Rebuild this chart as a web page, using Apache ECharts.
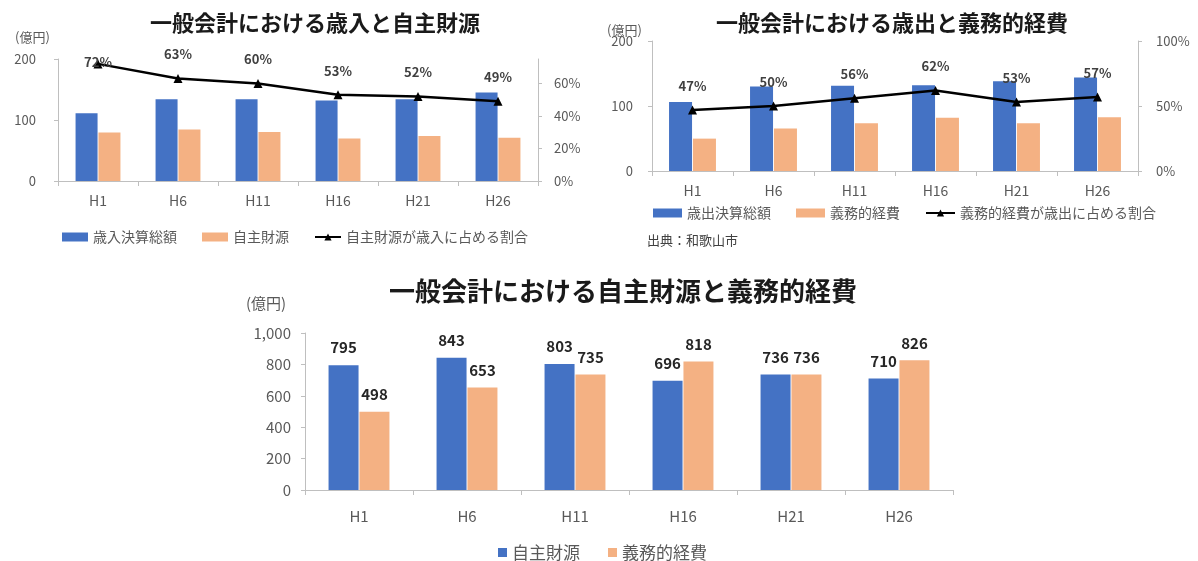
<!DOCTYPE html>
<html>
<head>
<meta charset="utf-8">
<script src="https://cdn.jsdelivr.net/npm/echarts@6/dist/echarts.min.js"></script>
<style>
  html, body { margin: 0; padding: 0; background: #fff; }
  #chart { width: 1198px; height: 561px; }
</style>
</head>
<body>
<div id="chart"></div>
<script>
// Fiscal years (Heisei)
const categories = ['H1', 'H6', 'H11', 'H16', 'H21', 'H26'];

// Revenue panel
const revenueTotal = [111, 134, 134, 132, 134, 145];
const ownRevenueTop = [79.5, 84.3, 80.3, 69.6, 73.6, 71.0];
const ownRevenueRatio = [0.72, 0.63, 0.60, 0.53, 0.52, 0.49];

// Expenditure panel
const expenditureTotal = [106, 130, 131, 132, 138, 144];
const mandatoryTop = [49.8, 65.3, 73.5, 81.8, 73.6, 82.6];
const mandatoryRatio = [0.47, 0.50, 0.56, 0.62, 0.53, 0.57];

// Comparison panel (億円)
const ownRevenue = [795, 843, 803, 696, 736, 710];
const mandatory = [498, 653, 735, 818, 736, 826];

const FONT = '"Noto Sans CJK JP", "Noto Sans", sans-serif';
const BLUE = '#4472C4';
const ORANGE = '#F4B183';
const AXIS = '#bfbfbf';
const TEXT = '#595959';

const pct = v => Math.round(v * 100) + '%';

function catAxis(gridIndex, fontSize, margin) {
  return {
    type: 'category', gridIndex, data: categories,
    axisLine: { lineStyle: { color: AXIS } },
    axisTick: { show: true, length: 5, lineStyle: { color: AXIS } },
    axisLabel: { color: TEXT, fontSize, fontFamily: FONT, margin }
  };
}
function valAxis(gridIndex, max, interval, fontSize, margin, position, formatter) {
  return {
    type: 'value', gridIndex, min: 0, max, interval, position,
    splitLine: { show: false },
    axisLine: { show: true, lineStyle: { color: AXIS } },
    axisTick: { show: true, length: 4, lineStyle: { color: AXIS } },
    axisLabel: { color: TEXT, fontSize, fontFamily: FONT, margin, formatter, showMaxLabel: true }
  };
}

const ratioLabel = {
  show: true, position: 'top', distance: 13,
  formatter: p => pct(p.value), color: '#404040',
  fontSize: 13, fontWeight: 'bold', fontFamily: FONT
};
const valueLabel = {
  show: true, position: 'top', distance: 10,
  color: '#262626', fontSize: 15, fontWeight: 'bold', fontFamily: FONT
};

// Secondary axis of the revenue panel: the top end is not a labelled step
const rightAxisTop = valAxis(0, 0.75, 0.2, 13, 16, 'right', pct);
rightAxisTop.axisLabel.showMaxLabel = false;

const option = {
  animation: false,
  textStyle: { fontFamily: FONT },
  title: [
    { text: '一般会計における歳入と自主財源', left: 315, top: 12, textAlign: 'center', padding: 0,
      textStyle: { fontSize: 22, fontWeight: 'bold', color: '#1a1a1a', fontFamily: FONT } },
    { text: '一般会計における歳出と義務的経費', left: 892, top: 12, textAlign: 'center', padding: 0,
      textStyle: { fontSize: 22, fontWeight: 'bold', color: '#1a1a1a', fontFamily: FONT } },
    { text: '一般会計における自主財源と義務的経費', left: 623, top: 278, textAlign: 'center', padding: 0,
      textStyle: { fontSize: 26, fontWeight: 'bold', color: '#1a1a1a', fontFamily: FONT } }
  ],
  grid: [
    { left: 58, top: 59, width: 480, height: 122 },
    { left: 652, top: 41, width: 486, height: 130 },
    { left: 305, top: 333, width: 648, height: 157 }
  ],
  xAxis: [catAxis(0, 14, 13), catAxis(1, 14, 13), catAxis(2, 15, 19)],
  yAxis: [
    valAxis(0, 200, 100, 13, 22, 'left'),
    rightAxisTop,
    valAxis(1, 200, 100, 13, 19, 'left'),
    valAxis(1, 1, 0.5, 13, 18, 'right', pct),
    valAxis(2, 1000, 200, 15, 14, 'left')
  ],
  legend: [
    { left: 62, top: 230, padding: 0, itemWidth: 26, itemHeight: 9, itemGap: 25,
      textStyle: { color: TEXT, fontSize: 14, fontFamily: FONT },
      data: [{ name: '歳入決算総額', icon: 'rect' }, { name: '自主財源', icon: 'rect' },
             '自主財源が歳入に占める割合'] },
    { left: 653, top: 206, padding: 0, itemWidth: 29, itemHeight: 9, itemGap: 25,
      textStyle: { color: TEXT, fontSize: 14, fontFamily: FONT },
      data: [{ name: '歳出決算総額', icon: 'rect' }, { name: '義務的経費', icon: 'rect' },
             '義務的経費が歳出に占める割合'] },
    { left: 498, top: 544, padding: 0, itemWidth: 9, itemHeight: 9, itemGap: 28, icon: 'rect',
      textStyle: { color: TEXT, fontSize: 17, fontFamily: FONT },
      data: [{ name: '自主財源', itemStyle: { color: BLUE } },
             { name: '義務的経費', itemStyle: { color: ORANGE } }] }
  ],
  graphic: [
    { type: 'text', left: 15, top: 31, style: { text: '(億円)', fill: TEXT, font: '13px ' + FONT } },
    { type: 'text', left: 607, top: 24, style: { text: '(億円)', fill: TEXT, font: '13px ' + FONT } },
    { type: 'text', left: 246, top: 296, style: { text: '(億円)', fill: TEXT, font: '15px ' + FONT } },
    { type: 'text', left: 647, top: 234, style: { text: '出典：和歌山市', fill: '#404040', font: '13px ' + FONT } }
  ],
  series: [
    // revenue panel
    { name: '歳入決算総額', type: 'bar', xAxisIndex: 0, yAxisIndex: 0, data: revenueTotal,
      barWidth: 22, barGap: '4%', itemStyle: { color: BLUE } },
    { name: '自主財源', type: 'bar', xAxisIndex: 0, yAxisIndex: 0, data: ownRevenueTop,
      barWidth: 22, barGap: '4%', itemStyle: { color: ORANGE } },
    { name: '自主財源が歳入に占める割合', type: 'line', xAxisIndex: 0, yAxisIndex: 1,
      // the first label sits lower, against the top of the plot
      data: ownRevenueRatio.map((v, i) => i === 0 ? { value: v, label: { offset: [0, 22] } } : v),
      symbol: 'triangle', symbolSize: 9, z: 5,
      lineStyle: { color: '#000', width: 2.5 }, itemStyle: { color: '#000' }, label: ratioLabel },
    // expenditure panel
    { name: '歳出決算総額', type: 'bar', xAxisIndex: 1, yAxisIndex: 2, data: expenditureTotal,
      barWidth: 23, barGap: '4%', itemStyle: { color: BLUE } },
    { name: '義務的経費', type: 'bar', xAxisIndex: 1, yAxisIndex: 2, data: mandatoryTop,
      barWidth: 23, barGap: '4%', itemStyle: { color: ORANGE } },
    { name: '義務的経費が歳出に占める割合', type: 'line', xAxisIndex: 1, yAxisIndex: 3,
      data: mandatoryRatio, symbol: 'triangle', symbolSize: 9, z: 5,
      lineStyle: { color: '#000', width: 2.5 }, itemStyle: { color: '#000' }, label: ratioLabel },
    // comparison panel
    { name: '自主財源', type: 'bar', xAxisIndex: 2, yAxisIndex: 4, data: ownRevenue,
      barWidth: 30, barGap: '3%', itemStyle: { color: BLUE }, label: valueLabel },
    { name: '義務的経費', type: 'bar', xAxisIndex: 2, yAxisIndex: 4, data: mandatory,
      barWidth: 30, barGap: '3%', itemStyle: { color: ORANGE }, label: valueLabel }
  ]
};

const chart = echarts.init(document.getElementById('chart'), null, { renderer: 'canvas' });
chart.setOption(option);
</script>
</body>
</html>
